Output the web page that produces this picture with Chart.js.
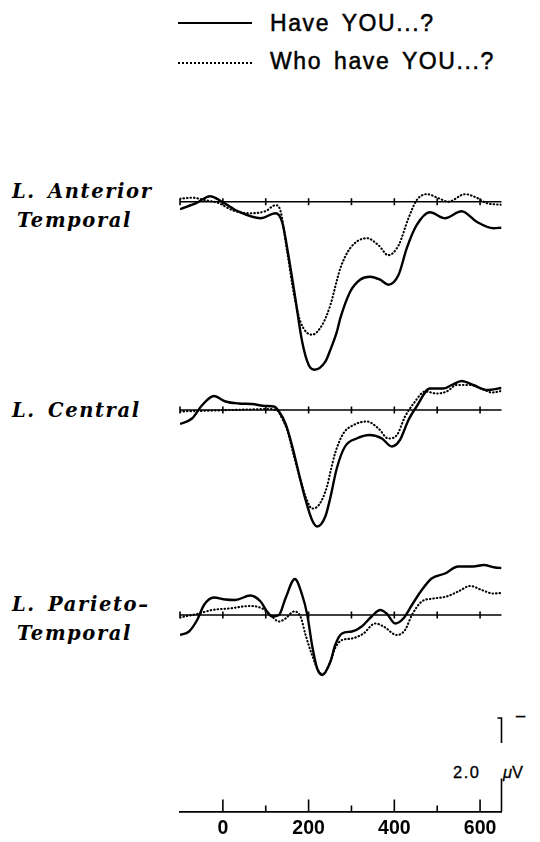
<!DOCTYPE html>
<html>
<head>
<meta charset="utf-8">
<script src="https://cdn.jsdelivr.net/npm/chart.js@4.4.0/dist/chart.umd.min.js"></script>
<style>
  html, body { margin: 0; padding: 0; background: #fff; }
  body { width: 540px; height: 842px; position: relative; overflow: hidden; }
  canvas { position: absolute; }
  .txt { position: absolute; white-space: nowrap; color: #000; }
  .legend { left: 270px; font-family: 'Liberation Sans', Arial, sans-serif; font-size: 23px; line-height: 23px; letter-spacing: 1.6px; word-spacing: 4px; -webkit-text-stroke: 0.5px #000; }
  .sample { position: absolute; left: 178px; width: 74px; height: 0; }
  .region { font-family: 'DejaVu Serif', serif; font-style: italic; font-weight: bold; font-size: 19.5px; line-height: 29px; letter-spacing: 1.6px; word-spacing: 4px; }
  .bar { font-family: 'Liberation Sans', Arial, sans-serif; font-size: 16.5px; line-height: 16.5px; -webkit-text-stroke: 0.3px #000; }
</style>
</head>
<body>
<div class="sample" style="top:22px; border-top:2px solid #000"></div>
<div class="txt legend" style="top:12px">Have YOU...?</div>
<div class="sample" style="top:62px; border-top:2px dotted #000"></div>
<div class="txt legend" style="top:50px">Who have YOU...?</div>

<div class="txt region" style="left:12px; top:177px">L. Anterior</div>
<div class="txt region" style="left:17px; top:206px">Temporal</div>
<div class="txt region" style="left:12px; top:396px">L. Central</div>
<div class="txt region" style="left:12px; top:590px">L. Parieto–</div>
<div class="txt region" style="left:17px; top:619px">Temporal</div>

<div class="txt bar" style="left:453px; top:764px; letter-spacing:1.5px">2.0</div>
<div class="txt bar" style="left:503px; top:764px"><i>μ</i>V</div>
<div class="txt bar" style="left:515px; top:709px; font-size:19px">−</div>

<canvas id="ant"></canvas>
<canvas id="cen"></canvas>
<canvas id="par"></canvas>
<canvas id="axis"></canvas>

<script>
// ERP waveforms, microvolts (negative plotted up), time in ms
const antHaveT = [-100, -60, -30, -2, 37, 88, 123, 138, 154, 169, 185, 200, 214, 239, 250, 266, 274, 297, 320, 343, 367, 386, 410, 429, 452, 483, 518, 557, 592, 631, 650];
const antHaveV = [0.15, 0.02, -0.11, 0, 0.2, 0.33, 0.23, 0.4, 1.13, 1.93, 2.8, 3.26, 3.36, 3.2, 2.98, 2.6, 2.33, 1.8, 1.56, 1.5, 1.56, 1.66, 1.46, 0.93, 0.47, 0.21, 0.33, 0.19, 0.4, 0.53, 0.52];
const antWhoT = [-100, -72, -41, -9, 22, 61, 99, 123, 134, 150, 166, 181, 208, 232, 251, 267, 274, 297, 336, 363, 386, 410, 433, 452, 476, 503, 526, 565, 592, 616, 650];
const antWhoV = [-0.06, -0.08, -0.03, 0.03, 0.17, 0.23, 0.19, 0.07, 0.17, 1.0, 1.86, 2.4, 2.66, 2.46, 2.06, 1.54, 1.33, 0.93, 0.73, 0.87, 1.07, 0.87, 0.33, -0.03, -0.15, -0.07, 0, -0.15, -0.08, 0.03, 0.06];

const cenHaveT = [-100, -72, -48, -21, 6, 37, 68, 99, 119, 131, 146, 162, 177, 193, 208, 220, 239, 250, 266, 285, 312, 343, 371, 394, 413, 433, 452, 483, 514, 534, 557, 584, 616, 650];
const cenHaveV = [0.28, 0.17, -0.1, -0.28, -0.17, -0.13, -0.12, -0.08, -0.07, 0.03, 0.27, 0.73, 1.26, 1.8, 2.2, 2.33, 2.13, 1.78, 1.16, 0.73, 0.57, 0.5, 0.57, 0.73, 0.6, 0.2, -0.07, -0.43, -0.43, -0.5, -0.58, -0.5, -0.4, -0.44];
const cenWhoT = [-100, -60, -20, 20, 60, 100, 125, 140, 150, 166, 181, 196, 208, 224, 243, 250, 262, 281, 305, 336, 363, 386, 406, 425, 445, 472, 499, 522, 546, 577, 608, 627, 650];
const cenWhoV = [0.03, 0.02, 0.01, 0, -0.01, -0.02, 0, 0.2, 0.4, 0.93, 1.4, 1.8, 1.97, 1.9, 1.53, 1.27, 0.86, 0.47, 0.3, 0.23, 0.37, 0.57, 0.5, 0.13, -0.13, -0.37, -0.33, -0.37, -0.5, -0.5, -0.41, -0.35, -0.38];

const parHaveT = [-100, -79, -60, -44, -21, 6, 29, 64, 88, 103, 115, 131, 146, 168, 185, 197, 208, 220, 232, 251, 262, 278, 301, 324, 347, 367, 382, 402, 421, 441, 464, 487, 518, 549, 584, 608, 635, 650];
const parHaveV = [0.4, 0.33, 0.1, -0.2, -0.35, -0.31, -0.3, -0.39, -0.27, -0.07, 0.03, 0, -0.33, -0.72, -0.4, 0, 0.6, 1.07, 1.2, 0.93, 0.6, 0.37, 0.33, 0.23, 0.03, -0.1, -0.03, 0.17, 0.07, -0.2, -0.5, -0.73, -0.83, -0.97, -0.97, -1.0, -0.95, -0.94];
const parWhoT = [-100, -56, -25, 14, 64, 92, 111, 131, 146, 166, 181, 193, 208, 224, 232, 251, 262, 278, 301, 328, 355, 375, 406, 425, 441, 464, 491, 522, 549, 577, 604, 631, 650];
const parWhoV = [0.05, -0.03, -0.1, -0.13, -0.18, -0.13, 0, 0.13, 0.07, -0.07, 0.03, 0.4, 0.8, 1.13, 1.18, 0.93, 0.66, 0.5, 0.47, 0.37, 0.17, 0.23, 0.4, 0.3, 0, -0.27, -0.33, -0.37, -0.47, -0.58, -0.5, -0.43, -0.44];

const panelTicks = [-100, 0, 100, 200, 300, 400, 500, 600];
const axisMajor = [0, 200, 400, 600];
const axisMinor = [100, 300, 500];
const axisTickLabels = ['0', '200', '400', '600'];
const scaleBarUV = 2.0;

const T_MIN = -100;
const T_MAX = 650;
const PX_PER_UV = 50;
const LEFT = 170;
const WIDTH = 345;
const PAD = { left: 10, right: 13.5 };

const pts = (ts, vs) => ts.map((t, i) => ({ x: t, y: vs[i] }));

const baselinePlugin = {
    id: 'baseline',
    beforeDatasetsDraw(chart) {
        const { ctx, scales: { x, y } } = chart;
        const y0 = y.getPixelForValue(0);
        ctx.save();
        ctx.strokeStyle = '#000';
        ctx.lineWidth = 1.6;
        ctx.beginPath();
        ctx.moveTo(x.getPixelForValue(T_MIN), y0);
        ctx.lineTo(x.getPixelForValue(T_MAX), y0);
        panelTicks.forEach((t) => {
            const px = x.getPixelForValue(t);
            ctx.moveTo(px, y0 - 3.5);
            ctx.lineTo(px, y0 + 3.5);
        });
        ctx.stroke();
        ctx.restore();
    }
};

function placeCanvas(id, top, height) {
    const canvas = document.getElementById(id);
    canvas.width = WIDTH;
    canvas.height = height;
    canvas.style.left = LEFT + 'px';
    canvas.style.top = top + 'px';
    return canvas;
}

function makePanel(id, top, height, baseY, haveT, haveV, whoT, whoV) {
    const canvas = placeCanvas(id, top, height);
    return new Chart(canvas, {
        type: 'line',
        data: {
            datasets: [
                {
                    label: 'Have YOU...?',
                    data: pts(haveT, haveV),
                    borderColor: '#000',
                    borderWidth: 2.4,
                    pointRadius: 0,
                    cubicInterpolationMode: 'monotone'
                },
                {
                    label: 'Who have YOU...?',
                    data: pts(whoT, whoV),
                    borderColor: '#000',
                    borderWidth: 2.1,
                    borderDash: [0.5, 3],
                    borderCapStyle: 'round',
                    pointRadius: 0,
                    cubicInterpolationMode: 'monotone'
                }
            ]
        },
        options: {
            responsive: false,
            animation: false,
            layout: { padding: { left: PAD.left, right: PAD.right, top: 0, bottom: 0 } },
            plugins: { legend: { display: false }, tooltip: { enabled: false } },
            scales: {
                x: { type: 'linear', min: T_MIN, max: T_MAX, display: false },
                y: {
                    type: 'linear',
                    reverse: true,
                    min: (top - baseY) / PX_PER_UV,
                    max: (top + height - baseY) / PX_PER_UV,
                    display: false
                }
            }
        },
        plugins: [baselinePlugin]
    });
}

makePanel('ant', 180, 200, 201.7, antHaveT, antHaveV, antWhoT, antWhoV);
makePanel('cen', 375, 160, 410, cenHaveT, cenHaveV, cenWhoT, cenWhoV);
makePanel('par', 560, 125, 615, parHaveT, parHaveV, parWhoT, parWhoV);

// time axis with upward ticks and the calibration bar
const axisPlugin = {
    id: 'timeAxis',
    afterDraw(chart) {
        const { ctx, scales: { x, y } } = chart;
        const y0 = y.getPixelForValue(0);
        ctx.save();
        ctx.strokeStyle = '#000';
        ctx.lineWidth = 1.6;
        ctx.beginPath();
        axisMajor.forEach((t) => {
            const px = x.getPixelForValue(t);
            ctx.moveTo(px, y0);
            ctx.lineTo(px, y0 - 12);
        });
        axisMinor.forEach((t) => {
            const px = x.getPixelForValue(t);
            ctx.moveTo(px, y0);
            ctx.lineTo(px, y0 - 6);
        });
        const bx = x.getPixelForValue(T_MAX);
        const yTop = y.getPixelForValue(scaleBarUV);
        ctx.moveTo(bx, y0);
        ctx.lineTo(bx, y0 - 33);
        ctx.moveTo(bx, yTop + 25);
        ctx.lineTo(bx, yTop);
        ctx.lineTo(bx - 4, yTop);
        ctx.stroke();
        ctx.restore();
    }
};

new Chart(placeCanvas('axis', 700, 145), {
    type: 'line',
    data: { datasets: [{ data: [], pointRadius: 0 }] },
    options: {
        responsive: false,
        animation: false,
        layout: { padding: { left: PAD.left, right: PAD.right, top: 18, bottom: 0 } },
        plugins: { legend: { display: false }, tooltip: { enabled: false } },
        scales: {
            x: {
                type: 'linear',
                min: T_MIN,
                max: T_MAX,
                position: 'bottom',
                afterBuildTicks: (scale) => {
                    scale.ticks = axisMajor.map((v) => ({ value: v }));
                },
                grid: { display: false, drawTicks: false },
                border: { display: true, color: '#000', width: 1.8 },
                ticks: {
                    color: '#000',
                    padding: 7,
                    maxRotation: 0,
                    autoSkip: false,
                    font: { family: "'Liberation Sans', Arial, sans-serif", size: 19.5, weight: 'bold', lineHeight: 1 },
                    callback: (value) => axisTickLabels[axisMajor.indexOf(value)]
                }
            },
            y: { type: 'linear', min: 0, max: scaleBarUV, display: false }
        }
    },
    plugins: [axisPlugin]
});
</script>
</body>
</html>
